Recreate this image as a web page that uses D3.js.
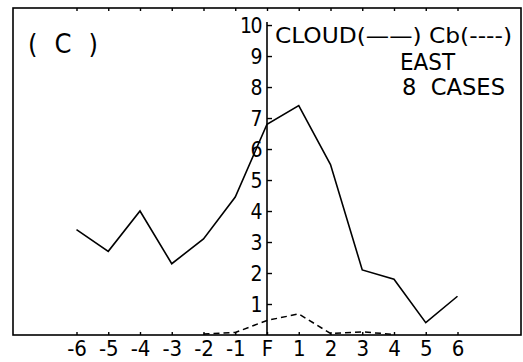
<!DOCTYPE html>
<html>
<head>
<meta charset="utf-8">
<script src="https://cdn.jsdelivr.net/npm/d3@7"></script>
<style>
  body { margin: 0; background: #fff; }
  text { font-family: "DejaVu Sans Condensed", "DejaVu Sans", sans-serif; fill: #000; }
</style>
</head>
<body>
<script>
var width = 523,
    height = 362;

// hours relative to frontal passage (F = 0)
var hours = [-6, -5, -4, -3, -2, -1, 0, 1, 2, 3, 4, 5, 6];
var tickLabels = ["-6", "-5", "-4", "-3", "-2", "-1", "F", "1", "2", "3", "4", "5", "6"];
var cloud = [3.4, 2.7, 4.0, 2.3, 3.1, 4.45, 6.8, 7.4, 5.5, 2.1, 1.8, 0.4, 1.25];
var cbHours = [-2, -1, 0, 1, 2, 3, 4];
var cb = [0.03, 0.08, 0.47, 0.68, 0.05, 0.1, 0.02];
var yTicks = [1, 2, 3, 4, 5, 6, 7, 8, 9, 10];

var svg = d3.select("body").append("svg")
    .attr("width", width)
    .attr("height", height);

var x = d3.scaleLinear().domain([-8, 8]).range([13, 521]);
var y = d3.scaleLinear().domain([0, 10.55]).range([335, 8]);

// frame
svg.append("rect")
    .attr("x", x(-8)).attr("y", y(10.55))
    .attr("width", x(8) - x(-8)).attr("height", y(0) - y(10.55))
    .style("fill", "none").style("stroke", "#000").style("stroke-width", 1.6);

// bottom axis
var xAxis = svg.append("g")
    .attr("transform", "translate(0," + y(0) + ")")
    .call(d3.axisBottom(x).tickValues(hours).tickSize(-3).tickPadding(4)
        .tickFormat(function(d, i) { return tickLabels[i]; }));
xAxis.select(".domain").remove();
xAxis.selectAll("line").style("stroke-width", 1.4);
xAxis.selectAll("text").style("font-size", "22px").attr("dy", "0.75em");

// top edge ticks
var topAxis = svg.append("g")
    .attr("transform", "translate(0," + y(10.55) + ")")
    .call(d3.axisTop(x).tickValues(hours).tickSize(-3).tickFormat(""));
topAxis.select(".domain").remove();
topAxis.selectAll("line").style("stroke-width", 1.4);

// y axis at F
var yAxis = svg.append("g")
    .attr("transform", "translate(" + x(0) + ",0)")
    .call(d3.axisRight(y).tickValues(yTicks).tickSize(5).tickFormat(""));
yAxis.select(".domain").attr("d", "M0," + y(0) + "V" + y(10.1)).style("stroke-width", 1.6);
yAxis.selectAll("line").style("stroke-width", 1.4);

svg.append("g").selectAll("text")
    .data(yTicks)
    .enter().append("text")
    .attr("x", x(0) - 6)
    .attr("y", function(d) { return y(d); })
    .attr("dy", "0.36em")
    .attr("text-anchor", "end")
    .style("font-size", "21px")
    .style("letter-spacing", "-1.5px")
    .text(function(d) { return d; });

var line = d3.line()
    .x(function(d) { return x(d[0]); })
    .y(function(d) { return y(d[1]); });

svg.append("path")
    .datum(d3.zip(hours, cloud))
    .attr("d", line)
    .style("fill", "none").style("stroke", "#000").style("stroke-width", 1.6);

svg.append("path")
    .datum(d3.zip(cbHours, cb))
    .attr("d", line)
    .style("fill", "none").style("stroke", "#000").style("stroke-width", 1.5)
    .style("stroke-dasharray", "6,4");

// labels
svg.append("text")
    .attr("x", 28).attr("y", 53)
    .style("font-size", "27px")
    .attr("textLength", 70).attr("lengthAdjust", "spacing")
    .text("( C )");

svg.append("text")
    .attr("x", 275).attr("y", 43)
    .style("font-size", "22px")
    .attr("textLength", 237).attr("lengthAdjust", "spacingAndGlyphs")
    .text("CLOUD(——) Cb(----)");

svg.append("text")
    .attr("x", 400).attr("y", 70)
    .style("font-size", "23px")
    .attr("textLength", 55).attr("lengthAdjust", "spacingAndGlyphs")
    .text("EAST");

svg.append("text")
    .attr("x", 402).attr("y", 95)
    .style("font-size", "23px")
    .style("white-space", "pre")
    .attr("textLength", 103).attr("lengthAdjust", "spacingAndGlyphs")
    .text("8  CASES");
</script>
</body>
</html>
